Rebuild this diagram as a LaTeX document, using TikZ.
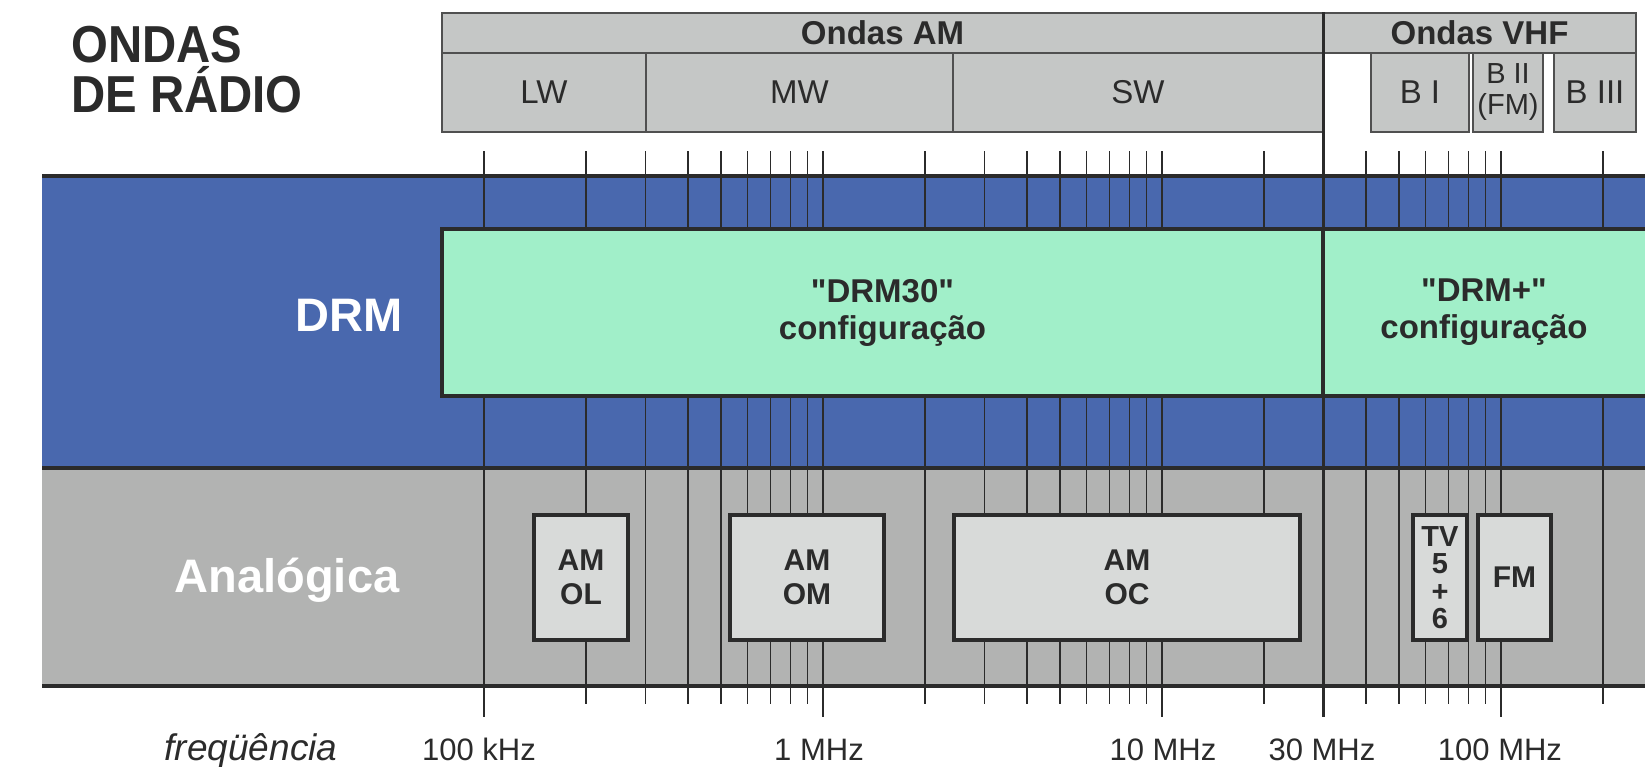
\documentclass[tikz,border=0pt]{standalone}
\usepackage{fontspec}
\setmainfont{Liberation Sans}
\newfontfamily\titlefont[FakeStretch=0.91]{Liberation Sans}
\usepackage{tikz}

\definecolor{txt}{RGB}{43,43,43}
\definecolor{drmblue}{RGB}{73,104,174}
\definecolor{anagray}{RGB}{178,179,178}
\definecolor{mint}{RGB}{161,239,201}
\definecolor{hdrgray}{RGB}{197,199,198}
\definecolor{hdrline}{RGB}{80,80,80}
\definecolor{boxgray}{RGB}{216,218,217}
\newcommand\setfs[2]{\fontsize{#1}{#2}\selectfont}

\begin{document}
\begin{tikzpicture}[x=1pt, y=-1pt,
	hdrtop/.style={draw=hdrline, line width=1.2, fill=hdrgray, inner sep=0pt, text=txt, minimum height=40, font=\bfseries\setfs{33}{37}},
	hdrsub/.style={draw=hdrline, line width=1.2, fill=hdrgray, inner sep=0pt, text=txt, minimum height=79, align=center, font=\setfs{33}{37}},
	drmbox/.style={draw=txt, line width=4, fill=mint, minimum height=167, inner sep=0pt},
	drmtext/.style={text=txt, align=center, font=\bfseries\setfs{33}{37}},
	anabox/.style={draw=txt, line width=4, fill=boxgray, minimum height=125, inner sep=0pt, align=center, text=txt, font=\bfseries\setfs{30}{34}},
	bandlbl/.style={text=white, anchor=base, inner sep=0pt, font=\bfseries\setfs{47}{50}},
	freqlbl/.style={text=txt, anchor=base, inner sep=0pt, font=\setfs{31}{35}},
	gridline/.style={draw=txt, line width=1.3},
	bandline/.style={draw=txt, line width=4.5}]
	\fill[white] (0,0) rectangle (1645,766);
	\useasboundingbox (0,0) rectangle (1645,766);

	% title
	\node[anchor=base west, inner sep=0pt, text=txt, font=\titlefont\bfseries\setfs{52}{52}] (ondas) at (71,62) {ONDAS};
	\node[anchor=base west, inner sep=0pt, text=txt, font=\titlefont\bfseries\setfs{52}{52}] (radio) at (71,112) {DE RÁDIO};

	% bands
	\fill[drmblue] (42,176) rectangle (1645,468);
	\fill[anagray] (42,468) rectangle (1645,686);

	% log scale, 100 kHz at x=484, 339 per decade
	\foreach \e in {0,1,2} {
		\foreach \m in {1,...,9} {
			\pgfmathsetmacro\xf{484+339*(\e+log10(\m))}
			\draw[gridline] (\xf,151) -- (\xf,704);
		}
	}
	\foreach \m in {1,2} {
		\pgfmathsetmacro\xf{484+339*(3+log10(\m))}
		\draw[gridline] (\xf,151) -- (\xf,704);
	}
	\foreach \e in {0,1,2,3}
		\draw[gridline, line width=2.4] (484+339*\e,686) -- (484+339*\e,717);

	% header
	\node[hdrtop, minimum width=881] (ondasam) at (882.5,33) {Ondas AM};
	\node[hdrtop, minimum width=313] (ondasvhf) at (1479.5,33) {Ondas VHF};
	\node[hdrsub, minimum width=204] (lw) at (544,92.5) {LW};
	\node[hdrsub, minimum width=307] (mw) at (799.5,92.5) {MW};
	\node[hdrsub, minimum width=370] (sw) at (1138,92.5) {SW};
	\node[hdrsub, minimum width=98] (bi) at (1420,92.5) {B I};
	\node[hdrsub, minimum width=70, font=\setfs{29}{31}] (bii) at (1508,92.5) {B II\\(FM)};
	\node[hdrsub, minimum width=82] (biii) at (1595,92.5) {B III};

	% DRM
	\node[drmbox, minimum width=881] (drm30) at (882.5,312.5) {};
	\node[drmtext] (drm30txt) at (drm30) {\textquotedbl DRM30\textquotedbl\\configuração};
	\node[drmbox, minimum width=340] (drmplus) at (1493,312.5) {};
	\node[drmtext] (drmplustxt) at (1484,312.5) {\textquotedbl DRM+\textquotedbl\\configuração};

	% analogica
	\node[anabox, minimum width=94] (amol) at (581,577.5) {AM\\OL};
	\node[anabox, minimum width=154] (amom) at (807,577.5) {AM\\OM};
	\node[anabox, minimum width=346] (amoc) at (1127,577.5) {AM\\OC};
	\node[anabox, minimum width=54, font=\bfseries\setfs{29}{27.5}] (tv) at (1440,577.5) {TV\\5\\+\\6};
	\node[anabox, minimum width=73] (fm) at (1514.5,577.5) {FM};

	% 30 MHz
	\pgfmathsetmacro\xthirty{484+339*(2+log10(3))}
	\draw[gridline, line width=3] (\xthirty,12) -- (\xthirty,717);

	\draw[bandline] (42,176) -- (1645,176);
	\draw[bandline] (42,468) -- (1645,468);
	\draw[bandline] (42,686) -- (1645,686);

	\node[bandlbl] (drm) at (349,331) {DRM};
	\node[bandlbl] (analogica) at (287,592) {Analógica};

	\node[freqlbl, font=\itshape\setfs{37}{40}] (freq) at (251,760) {freqüência};
	\node[freqlbl] (f100k) at (479,760) {100 kHz};
	\node[freqlbl] (f1m) at (819,760) {1 MHz};
	\node[freqlbl] (f10m) at (1163,760) {10 MHz};
	\node[freqlbl] (f30m) at (1322,760) {30 MHz};
	\node[freqlbl] (f100m) at (1500,760) {100 MHz};
\end{tikzpicture}
\end{document}
